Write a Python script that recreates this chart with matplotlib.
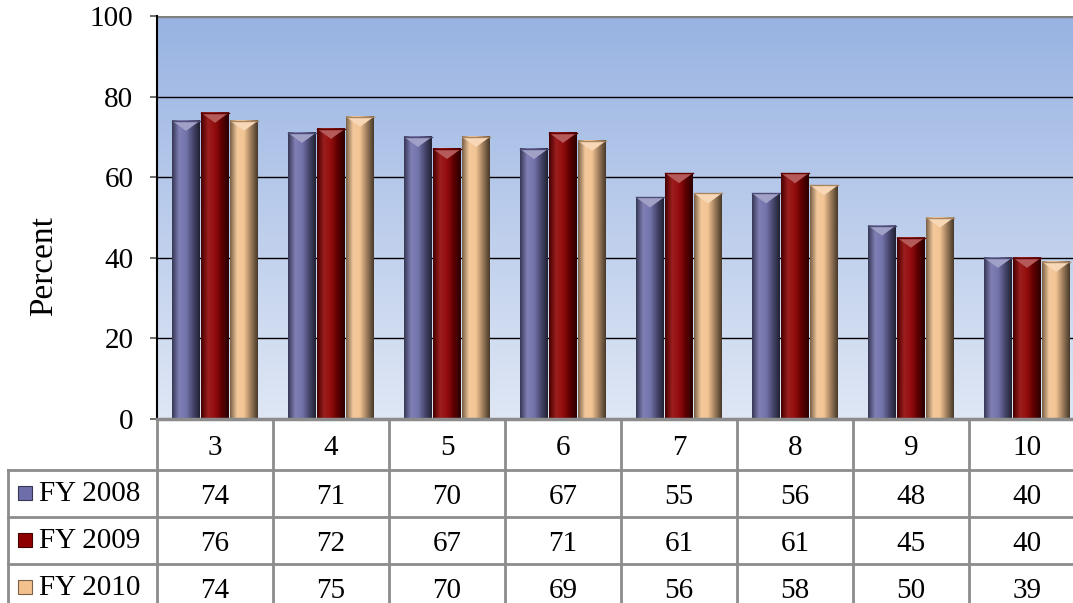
import matplotlib.pyplot as plt
import numpy as np
from matplotlib.colors import LinearSegmentedColormap, to_rgb

# Data
grades = ["3", "4", "5", "6", "7", "8", "9", "10"]
series = ["FY 2008", "FY 2009", "FY 2010"]
fy2008 = [74, 71, 70, 67, 55, 56, 48, 40]
fy2009 = [76, 72, 67, 71, 61, 61, 45, 40]
fy2010 = [74, 75, 70, 69, 56, 58, 50, 39]
values = [fy2008, fy2009, fy2010]

colors = ["#6e6eaa", "#8e0000", "#f2c18e"]
yticks = [0, 20, 40, 60, 80, 100]

plt.rcParams["font.family"] = ["Liberation Serif", "DejaVu Serif"]
W, H = 1073, 603
fig = plt.figure(figsize=(W / 100, H / 100), dpi=100)

ax_left, ax_top, ax_bot = 157, 16, 419
col_w = 116
ax = fig.add_axes([ax_left / W, 1 - ax_bot / H, 1 - ax_left / W, (ax_bot - ax_top) / H])
xmax = -0.5 + (W - ax_left) / col_w
ax.set_xlim(-0.5, xmax)
ax.set_ylim(0, 100)

# background gradient
bg = LinearSegmentedColormap.from_list("bg", ["#dfe7f5", "#98b3e2"])
ax.imshow(np.linspace(0, 1, 256).reshape(-1, 1), cmap=bg, origin="lower",
          extent=[-0.5, xmax, 0, 100], aspect="auto", zorder=0)

for y in yticks[1:-1]:
    ax.axhline(y, color="black", lw=1, zorder=1)
ax.axhline(100, color="#808080", lw=2.5, zorder=1)


def shade(c, f):
    r = np.array(to_rgb(c))
    if f < 0:
        return tuple(r * (1 + f))
    return tuple(r + (1 - r) * f)


x = np.arange(len(grades))
bw = 0.24
offsets = [-0.25, 0, 0.25]
for vals, off, c in zip(values, offsets, colors):
    bars = ax.bar(x + off, vals, bw, color=c, zorder=2, edgecolor="none")
    cm = LinearSegmentedColormap.from_list(
        "b", [shade(c, -0.5), shade(c, 0.12), shade(c, 0.05), shade(c, -0.35), shade(c, -0.7)])
    for b in bars:
        x0, w, h = b.get_x(), b.get_width(), b.get_height()
        ax.imshow(np.linspace(0, 1, 64).reshape(1, -1), cmap=cm,
                  extent=[x0, x0 + w, 0, h], aspect="auto", zorder=3)
        ax.fill([x0, x0 + w, x0 + w / 2], [h, h, h - 2.5], color=shade(c, 0.35), zorder=4, lw=0)
        ax.plot([x0, x0 + w], [h, h], color=shade(c, -0.3), lw=1, zorder=4)

ax.set_xticks([])
ax.set_yticks(yticks)
ax.tick_params(axis="y", labelsize=21, length=5, width=1.2, color="#555555",
               direction="out", pad=12)
ax.set_ylabel("Percent", fontsize=24)
ax.yaxis.set_label_coords(-0.107, 0.38)
for s in ["top", "right", "bottom"]:
    ax.spines[s].set_visible(False)
ax.spines["left"].set_linewidth(1.5)

# table drawn in pixel coordinates
tb = fig.add_axes([0, 0, 1, 1 - ax_bot / H])
tb.set_xlim(0, W)
tb.set_ylim(H, ax_bot)
tb.axis("off")
gc = "#8c8c8c"
row_y = [419, 470, 517, 564, 611]
lab_x0 = 8
edges = [ax_left + i * col_w for i in range(len(grades) + 1)]
for xe in edges:
    tb.plot([xe, xe], [row_y[0], H], color=gc, lw=2, clip_on=False)
tb.plot([ax_left, W], [row_y[0], row_y[0]], color=gc, lw=2.5, clip_on=False)
tb.plot([lab_x0, lab_x0], [row_y[1], H], color=gc, lw=2)
for yr in row_y[1:-1]:
    tb.plot([lab_x0, W], [yr, yr], color=gc, lw=2)

fs = 21
for i, g in enumerate(grades):
    cx = edges[i] + col_w / 2
    tb.text(cx, (row_y[0] + row_y[1]) / 2 + 3, g, ha="center", va="center", fontsize=fs)
for r, (name, vals, c) in enumerate(zip(series, values, colors)):
    cy = (row_y[r + 1] + row_y[r + 2]) / 2
    tb.add_patch(plt.Rectangle((18, cy - 8), 14, 14, facecolor=c, edgecolor=shade(c, -0.5), lw=0.8))
    tb.text(39, cy, name, ha="left", va="center", fontsize=fs)
    for i, v in enumerate(vals):
        cx = edges[i] + col_w / 2
        tb.text(cx, cy + 3, str(v), ha="center", va="center", fontsize=fs)

fig.savefig("out.png", dpi=100)
